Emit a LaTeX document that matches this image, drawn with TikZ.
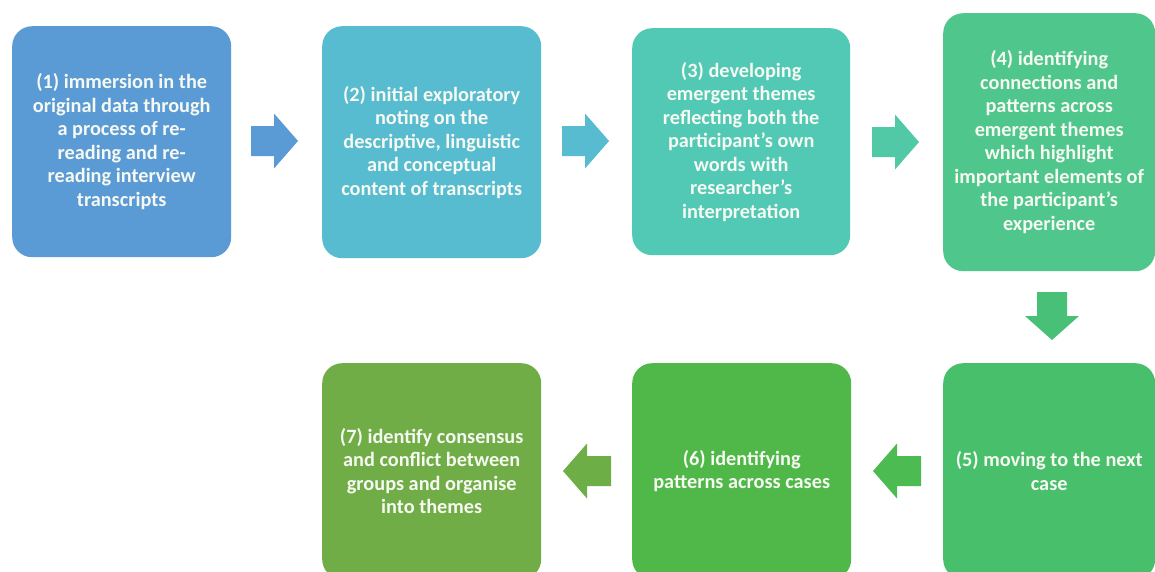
\documentclass[tikz,border=0pt]{standalone}
\usepackage{fontspec}
\setmainfont{Carlito}
\definecolor{cA}{HTML}{5B9BD5}
\definecolor{cB}{HTML}{57BCD0}
\definecolor{cC}{HTML}{52C9B5}
\definecolor{cD}{HTML}{4FC68C}
\definecolor{cE}{HTML}{48BF6A}
\definecolor{cF}{HTML}{50B848}
\definecolor{cG}{HTML}{70AD47}
\definecolor{aC}{HTML}{52C9A6}
\definecolor{aD}{HTML}{49C077}
\definecolor{aE}{HTML}{4CBB52}
\definecolor{aF}{HTML}{6DAE47}
\definecolor{txt}{HTML}{F6F8F2}
\newcommand\myrarrow[3]{\fill[#3] (#1,#2-15) -- (#1+23,#2-15) -- (#1+23,#2-27.5) -- (#1+47,#2) -- (#1+23,#2+27.5) -- (#1+23,#2+15) -- (#1,#2+15) -- cycle;}
\newcommand\mylarrow[3]{\fill[#3] (#1,#2) -- (#1+24,#2-27.5) -- (#1+24,#2-15) -- (#1+48,#2-15) -- (#1+48,#2+15) -- (#1+24,#2+15) -- (#1+24,#2+27.5) -- cycle;}
\newcommand\mydarrow[3]{\fill[#3] (#1-15,#2) -- (#1+15,#2) -- (#1+15,#2+24) -- (#1+27,#2+24) -- (#1,#2+48) -- (#1-27,#2+24) -- (#1-15,#2+24) -- cycle;}
\begin{document}
\begin{tikzpicture}[x=1pt,y=-1pt,
  stage/.style={rounded corners=20pt, inner sep=0pt, anchor=north west,
    text=txt, font=\fontsize{20.3}{23.5}\selectfont\bfseries, align=center}]
\useasboundingbox (0,0) rectangle (1155,571);
\fill[white] (0,0) rectangle (1155,571);
\node[stage, fill=cA, minimum width=219pt, minimum height=231pt] (b1) at (12,26)
  {(1) immersion in the\\original data through\\a process of re-\\reading and re-\\reading interview\\transcripts};
\node[stage, fill=cB, minimum width=219pt, minimum height=232pt] (b2) at (322,26)
  {(2) initial exploratory\\noting on the\\descriptive, linguistic\\and conceptual\\content of transcripts};
\node[stage, fill=cC, minimum width=218pt, minimum height=227pt] (b3) at (632,28)
  {(3) developing\\emergent themes\\reflecting both the\\participant’s own\\words with\\researcher’s\\interpretation};
\node[stage, fill=cD, minimum width=212pt, minimum height=258pt] (b4) at (943,13)
  {(4) identifying\\connections and\\patterns across\\emergent themes\\which highlight\\important elements of\\the participant’s\\experience};
\node[stage, fill=cE, minimum width=212pt, minimum height=216pt] (b5) at (943,363)
  {(5) moving to the next\\case};
\node[stage, fill=cF, minimum width=219pt, minimum height=216pt] (b6) at (632,363)
  {(6) identifying\\patterns across cases};
\node[stage, fill=cG, minimum width=219pt, minimum height=216pt] (b7) at (322,363)
  {(7) identify consensus\\and conflict between\\groups and organise\\into themes};
\myrarrow{251}{141}{cA}
\myrarrow{562}{141}{cB}
\myrarrow{872}{142}{aC}
\mydarrow{1052}{292}{aD}
\mylarrow{873}{471}{aE}
\mylarrow{563}{471}{aF}
\end{tikzpicture}
\end{document}
